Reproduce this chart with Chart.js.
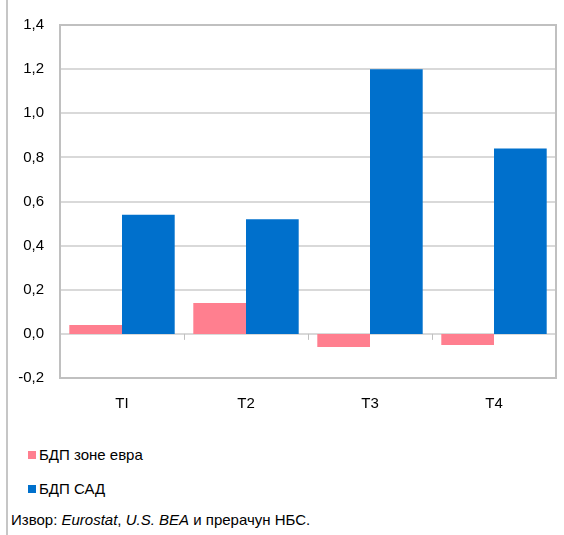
<!DOCTYPE html>
<html>
<head>
<meta charset="utf-8">
<script src="https://cdn.jsdelivr.net/npm/chart.js@4"></script>
<style>
  body { margin: 0; background: #fff; font-family: "Liberation Sans", Arial, sans-serif; }
  #wrap { position: absolute; left: 6px; top: 0; width: 558px; height: 535px; border-left: 2px solid #c6c6c6; }
  #box { position: absolute; left: 0; top: 0; width: 556px; height: 422px; }
  #legend { position: absolute; left: 20px; top: 442px; font-size: 15px; color: #000; }
  #legend div { height: 34px; line-height: 26px; }
  #legend span.sw { display: inline-block; width: 8px; height: 8px; margin-right: 3px; vertical-align: 1px; }
  #src { position: absolute; left: 3px; top: 511px; font-size: 15px; color: #000; }
</style>
</head>
<body>
<div id="wrap">
  <div id="box"><canvas id="chart"></canvas></div>
  <div id="legend"></div>
  <div id="src">Извор: <i>Eurostat</i>, <i>U.S. BEA</i> и прерачун НБС.</div>
</div>
<script>
var kvartali = ['TI', 'T2', 'T3', 'T4'];
var bdpEvrozona = [0.04, 0.14, -0.06, -0.05];
var bdpSad = [0.54, 0.52, 1.20, 0.84];
var nazivi = ['БДП зоне евра', 'БДП САД'];
var boje = ['#ff7f8f', '#0070cc'];

const okvir = {
    id: 'okvir',
    afterDraw(chart) {
        const { ctx, chartArea: a, scales } = chart;
        ctx.save();
        ctx.strokeStyle = '#c0c0c0';
        ctx.lineWidth = 2;
        ctx.strokeRect(a.left, a.top, a.right - a.left, a.bottom - a.top);
        // crtice na nultoj liniji izmedju kategorija
        const y0 = scales.y.getPixelForValue(0);
        const x = scales.x;
        ctx.lineWidth = 1;
        for (let i = 1; i < kvartali.length; i++) {
            const px = Math.round((x.getPixelForValue(i - 1) + x.getPixelForValue(i)) / 2) + 0.5;
            ctx.beginPath();
            ctx.moveTo(px, y0);
            ctx.lineTo(px, y0 + 6);
            ctx.stroke();
        }
        ctx.restore();
    }
};

var chart = new Chart(document.getElementById('chart'), {
    type: 'bar',
    data: {
        labels: kvartali,
        datasets: [
            { label: nazivi[0], data: bdpEvrozona, backgroundColor: boje[0] },
            { label: nazivi[1], data: bdpSad, backgroundColor: boje[1] }
        ]
    },
    options: {
        responsive: true,
        maintainAspectRatio: false,
        animation: false,
        categoryPercentage: 0.85,
        barPercentage: 1,
        layout: { padding: { top: 24, right: 8 } },
        plugins: { legend: { display: false }, tooltip: { enabled: false } },
        scales: {
            x: {
                grid: { display: false },
                border: { display: false },
                ticks: { color: '#000', font: { family: 'Liberation Sans', size: 15 }, padding: 9 }
            },
            y: {
                min: -0.2,
                max: 1.4,
                afterFit: function(s) { s.width = 52; },
                grid: { color: '#d9d9d9', lineWidth: 2, drawTicks: false },
                border: { display: false },
                ticks: {
                    stepSize: 0.2,
                    color: '#000',
                    padding: 16,
                    font: { family: 'Liberation Sans', size: 15 },
                    callback: v => (Math.round(v * 10) / 10).toFixed(1).replace('.', ',')
                }
            }
        }
    },
    plugins: [okvir]
});

var leg = document.getElementById('legend');
chart.data.datasets.forEach(d => {
    var row = document.createElement('div');
    row.innerHTML = '<span class="sw" style="background:' + d.backgroundColor + '"></span>' + d.label;
    leg.appendChild(row);
});
</script>
</body>
</html>
